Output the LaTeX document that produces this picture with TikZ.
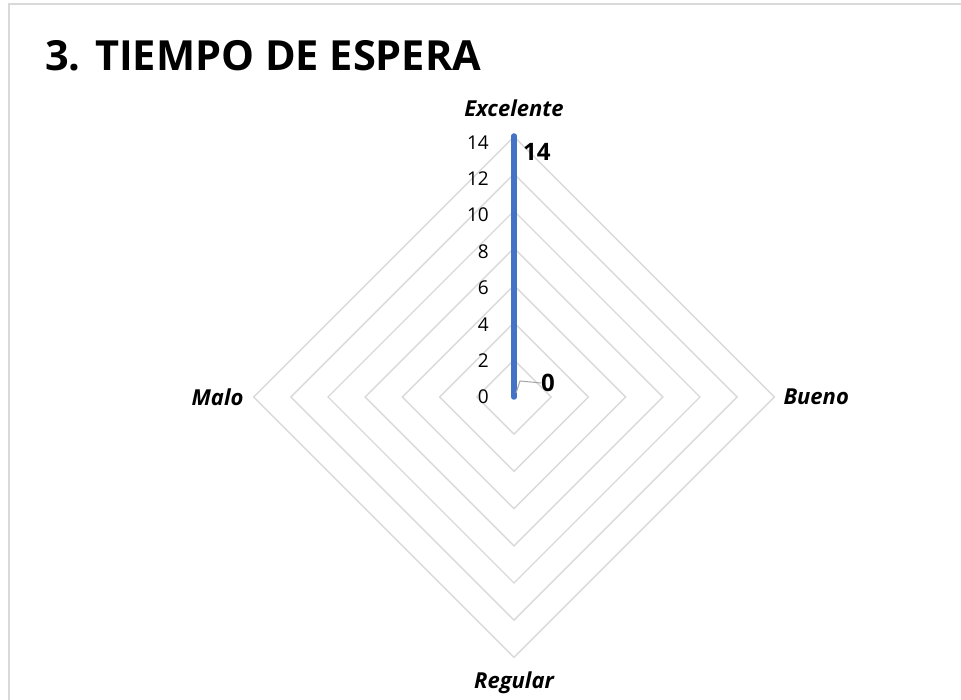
\documentclass[tikz,border=0pt]{standalone}
\usepackage{fontspec}
\setmainfont{Open Sans}
\usetikzlibrary{positioning}
\definecolor{gridgray}{HTML}{D9D9D9}
\definecolor{frameline}{HTML}{D9D9D9}
\definecolor{serieblue}{HTML}{4472C4}
\definecolor{leadergray}{HTML}{A6A6A6}

\begin{document}
\begin{tikzpicture}[x=1pt, y=-1pt]
  \tikzstyle{ring} = [draw=gridgray, line width=1.4pt]
  \tikzstyle{axislabel} = [font=\fontsize{22}{26}\selectfont\bfseries\itshape]
  \tikzstyle{tick} = [anchor=east, inner sep=0pt, font=\fontsize{19}{22}\selectfont]
  \tikzstyle{datalabel} = [anchor=west, inner sep=0pt, font=\fontsize{24}{28}\selectfont\bfseries]
  \tikzstyle{serie} = [draw=serieblue, line width=5.5pt, line cap=round]
  \tikzstyle{leader} = [draw=leadergray, line width=1pt]

  \useasboundingbox (0,0) rectangle (961,700);
  \draw [draw=frameline, line width=1.5pt] (9,700) -- (9,4) -- (961,4);

  \node (title) [anchor=base west, inner sep=0pt, font=\fontsize{41.5}{48}\selectfont\bfseries] at (45,71) {3. TIEMPO DE ESPERA};

  \coordinate (center) at (514,397);
  \coordinate (exc) at (514,136);
  \coordinate (bue) at (775,397);
  \coordinate (reg) at (514,658);
  \coordinate (mal) at (254,397);

  % rings, one per 2 units
  \foreach \r in {1,...,7}
    \draw [ring, shift={(center)}] (90:\r*37.2) -- (0:\r*37.2) -- (270:\r*37.2) -- (180:\r*37.2) -- cycle;

  \foreach \v in {0,2,...,14}
    \node (tick\v) [tick] at (489,397-\v*18.2) {\v};

  \node (excelente) [axislabel, above=16pt of exc] {Excelente};
  \node (bueno) [axislabel, right=5pt of bue] {Bueno};
  \node (regular) [axislabel, below=10pt of reg] {Regular};
  \node (malo) [axislabel, left=7pt of mal] {Malo};

  % the one series
  \draw [serie] (center) -- (exc);

  \node (val14) [datalabel] at (523,152) {14};
  \node (val0) [datalabel] at (541,383) {0};
  \coordinate (lead0) at (520,381);
  \draw [leader] (516,393) -- (lead0) -- (val0.west);
\end{tikzpicture}
\end{document}
